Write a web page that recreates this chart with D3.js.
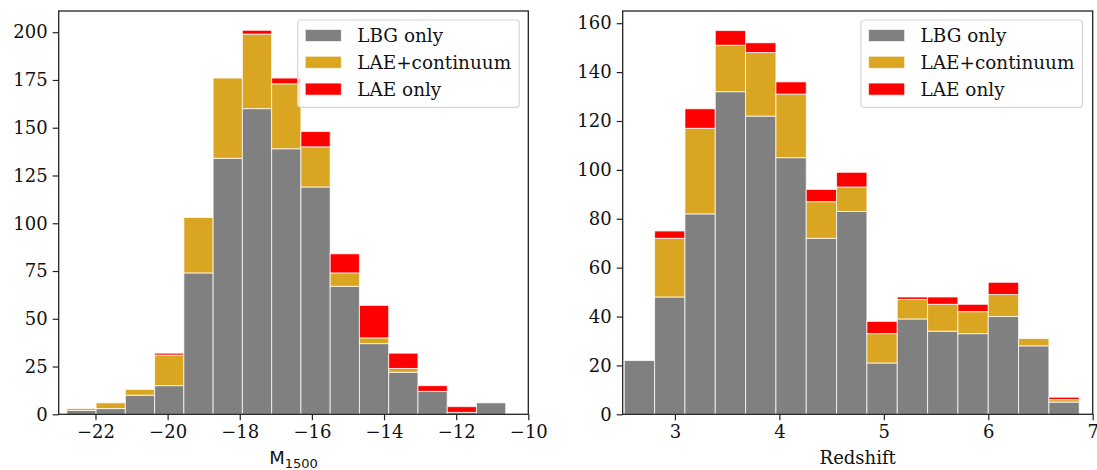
<!DOCTYPE html>
<html>
<head>
<meta charset="utf-8">
<script src="https://cdn.jsdelivr.net/npm/d3@7"></script>
<style>
  body { margin: 0; background: #fff; }
  svg text { font-family: "DejaVu Serif", serif; fill: #111; }
</style>
</head>
<body>
<svg id="chart" width="1097" height="470"></svg>
<script>
// ---- data ----
var seriesNames = ["LBG only", "LAE+continuum", "LAE only"];
var seriesColors = ["#808080", "#daa520", "#ff0000"];

// left panel: M1500 histogram, 15 bins
var magStart = -22.795, magWidth = 0.8113;
var magLBG  = [2, 3, 10, 15, 74, 134, 160, 139, 119, 67, 37, 22, 12, 1, 6];
var magLAEc = [1, 3, 3, 16, 29, 42, 39, 34, 21, 7, 3, 2, 0, 0, 0];
var magLAE  = [0, 0, 0, 1, 0, 0, 2, 3, 8, 10, 17, 8, 3, 3, 0];
var magXTicks = [-22, -20, -18, -16, -14, -12, -10];
var magYTicks = [0, 25, 50, 75, 100, 125, 150, 175, 200];

// right panel: redshift histogram, 15 bins
var zStart = 2.515, zWidth = 0.2904;
var zLBG  = [22, 48, 82, 132, 122, 105, 72, 83, 21, 39, 34, 33, 40, 28, 5];
var zLAEc = [0, 24, 35, 19, 26, 26, 15, 10, 12, 8, 11, 9, 9, 3, 1];
var zLAE  = [0, 3, 8, 6, 4, 5, 5, 6, 5, 1, 3, 3, 5, 0, 1];
var zXTicks = [3, 4, 5, 6, 7];
var zYTicks = [0, 20, 40, 60, 80, 100, 120, 140, 160];

var fs = "18px";
var svg = d3.select("#chart");

function panel(opt) {
  var left = opt.left, top = 11, right = opt.right, bottom = 414.3;
  var x = d3.scaleLinear().domain(opt.xDomain).range([left, right]);
  var y = d3.scaleLinear().domain(opt.yDomain).range([bottom, top]);
  var g = svg.append("g");

  // build stacked bins
  var rows = opt.lbg.map(function(v, i) {
    return { x0: opt.start + i * opt.width, x1: opt.start + (i + 1) * opt.width,
             vals: [v, opt.laec[i], opt.lae[i]] };
  });
  rows.forEach(function(r) {
    var base = 0;
    r.vals.forEach(function(v, s) {
      if (v > 0) {
        g.append("rect")
          .attr("x", x(r.x0))
          .attr("y", y(base + v))
          .attr("width", x(r.x1) - x(r.x0))
          .attr("height", y(base) - y(base + v))
          .attr("fill", seriesColors[s])
          .attr("stroke", "#fff")
          .attr("stroke-opacity", 0.75)
          .attr("stroke-width", 1);
      }
      base += v;
    });
  });

  // axes
  var xAxis = d3.axisBottom(x).tickValues(opt.xTicks).tickSize(6).tickPadding(5)
    .tickFormat(function(d) { return d < 0 ? "\u2212" + Math.abs(d) : d; });
  var yAxis = d3.axisLeft(y).tickValues(opt.yTicks).tickSize(6).tickPadding(5);
  var gx = g.append("g").attr("transform", "translate(0," + bottom + ")").call(xAxis);
  var gy = g.append("g").attr("transform", "translate(" + left + ",0)").call(yAxis);
  [gx, gy].forEach(function(a) {
    a.attr("font-family", "DejaVu Serif").attr("font-size", 18);
    a.select(".domain").remove();
    a.selectAll("line").attr("stroke", "#222").attr("stroke-width", 1.2);
    a.selectAll("text").attr("font-family", "DejaVu Serif").attr("fill", "#111");
  });

  // frame
  g.append("rect")
    .attr("x", left).attr("y", top)
    .attr("width", right - left).attr("height", bottom - top)
    .attr("fill", "none").attr("stroke", "#222").attr("stroke-width", 1.3);

  // x label
  var lab = g.append("text")
    .attr("x", (left + right) / 2).attr("y", 464)
    .attr("text-anchor", "middle")
    .style("font-size", fs);
  if (opt.sub) {
    lab.style("font-family", "'DejaVu Sans'").text(opt.label);
    lab.append("tspan").attr("dy", 4).style("font-size", "13px").text(opt.sub);
  } else {
    lab.text(opt.label);
  }

  // legend
  var lx = opt.legendX, ly = 20;
  var lg = g.append("g").attr("transform", "translate(" + lx + "," + ly + ")");
  lg.append("rect")
    .attr("width", 221.5).attr("height", 87.3).attr("rx", 3)
    .attr("fill", "#fff").attr("fill-opacity", 0.8)
    .attr("stroke", "#d6d6d6").attr("stroke-width", 1.2);
  seriesNames.forEach(function(name, i) {
    var cy = 15.5 + i * 26.8;
    lg.append("rect")
      .attr("x", 7.6).attr("y", cy - 6).attr("width", 36).attr("height", 12)
      .attr("fill", seriesColors[i]).attr("stroke", "#fff").attr("stroke-opacity", 0.6);
    lg.append("text")
      .attr("x", 59.6).attr("y", cy + 6.5)
      .style("font-size", "18.4px")
      .text(name);
  });
}

panel({
  left: 58.7, right: 528.3, xDomain: [-23.02, -10], yDomain: [0, 211.1],
  start: magStart, width: magWidth, lbg: magLBG, laec: magLAEc, lae: magLAE,
  xTicks: magXTicks, yTicks: magYTicks, label: "M", sub: "1500", legendX: 297.7
});

panel({
  left: 622.7, right: 1092.7, xDomain: [2.5, 7], yDomain: [0, 165],
  start: zStart, width: zWidth, lbg: zLBG, laec: zLAEc, lae: zLAE,
  xTicks: zXTicks, yTicks: zYTicks, label: "Redshift", legendX: 861
});
</script>
</body>
</html>
